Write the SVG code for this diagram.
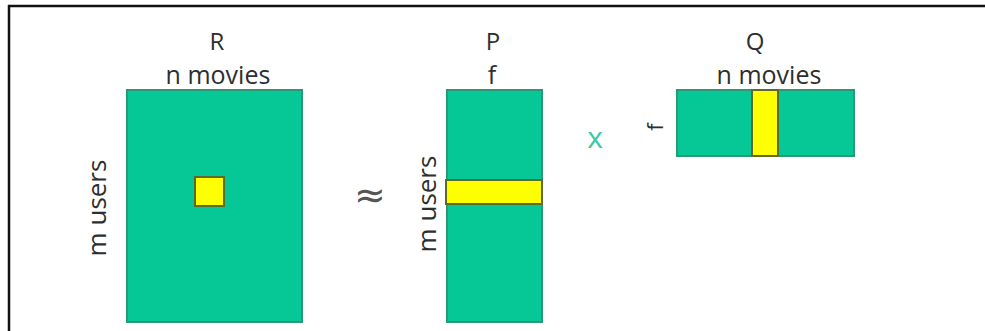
<svg xmlns="http://www.w3.org/2000/svg" width="985" height="331" viewBox="0 0 985 331">
<style>
.txt{font-family:"Open Sans","Liberation Sans",sans-serif;fill:#2e2e2e;text-anchor:middle}
.lbl{font-size:24px}
.dim{font-size:25px}
.mat{fill:#06c896;stroke:#2a9a76;stroke-width:2}
.hi{fill:#ffff00;stroke:#5c6b2a;stroke-width:2}
</style>
<rect width="985" height="331" fill="#ffffff"/>
<g id="frame">
<line x1="8" y1="6" x2="985" y2="6" stroke="#111" stroke-width="2.5"/>
<line x1="9" y1="5" x2="9" y2="331" stroke="#111" stroke-width="2.5"/>
</g>
<g id="R">
<rect class="mat" x="127" y="90" width="175" height="232"/>
<rect class="hi" x="195" y="177" width="29" height="29"/>
<text class="txt lbl" x="217" y="50">R</text>
<text class="txt dim" x="218" y="84">n movies</text>
<text class="txt dim" transform="translate(106,208) rotate(-90)" x="0" y="0" style="font-size:26px">m users</text>
</g>
<g id="approx">
<text class="txt" x="370" y="208" style="font-size:38px;font-family:'DejaVu Sans',sans-serif;fill:#555">≈</text>
</g>
<g id="P">
<rect class="mat" x="447" y="90" width="95" height="232"/>
<rect class="hi" x="446" y="180" width="96" height="24"/>
<text class="txt lbl" x="493" y="50">P</text>
<text class="txt dim" x="492" y="84">f</text>
<text class="txt dim" transform="translate(436,204) rotate(-90)" x="0" y="0" style="font-size:26px">m users</text>
</g>
<g id="times">
<text class="txt" x="595" y="148" style="font-size:30px;fill:#3cc8a6">x</text>
</g>
<g id="Q">
<rect class="mat" x="677" y="90" width="177" height="66"/>
<rect class="hi" x="752" y="90" width="26" height="66"/>
<text class="txt lbl" x="755" y="50">Q</text>
<text class="txt dim" x="769" y="84">n movies</text>
<text class="txt" transform="translate(663,127) rotate(-90)" x="0" y="0" style="font-size:22px">f</text>
</g>
<g id="connectors"></g>
</svg>
